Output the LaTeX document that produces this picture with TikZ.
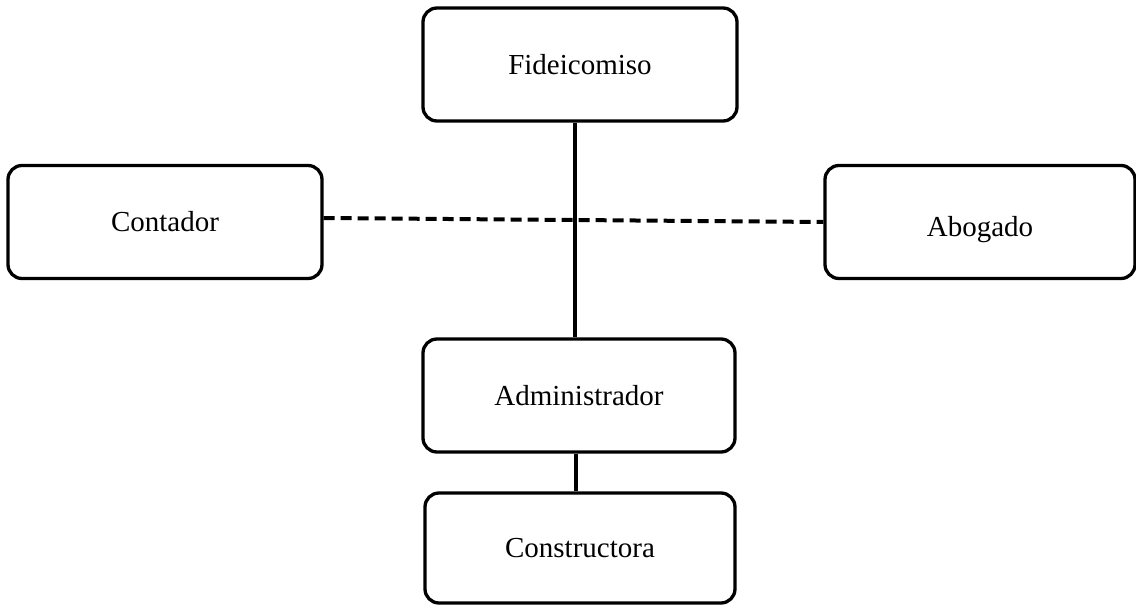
\documentclass[tikz,border=0pt]{standalone}
\usepackage{fontspec}
\setmainfont{Liberation Serif}
\begin{document}
\begin{tikzpicture}[x=1pt,y=-1pt,
  box/.style={draw,line width=3.3pt,rounded corners=14pt,rectangle,inner sep=0pt,
    minimum width=#1,minimum height=113pt,font=\fontsize{29}{34}\selectfont},
  conn/.style={line width=4pt},
  dconn/.style={line width=4pt,dash pattern=on 11pt off 6pt}]
\useasboundingbox (0,0) rectangle (1136,605);
\node[box=314pt] (fid) at (580,64.5) {Fideicomiso};
\node[box=314pt] (cont) at (165,222) {Contador};
\node[box=310pt] (abog) at (980,222) {\raisebox{-14pt}[0pt][0pt]{Abogado}};
\node[box=312pt] (adm) at (579,395.5) {Administrador};
\node[box=310pt,minimum height=110pt] (cons) at (580,548) {Constructora};
\draw[conn] ([xshift=-5pt]fid.south) -- ([xshift=-4pt]adm.north);
\draw[conn] ([xshift=-3pt]adm.south) -- ([xshift=-4pt]cons.north);
\draw[dconn] ([yshift=4pt]cont.east) -- (abog.west);
\end{tikzpicture}
\end{document}
